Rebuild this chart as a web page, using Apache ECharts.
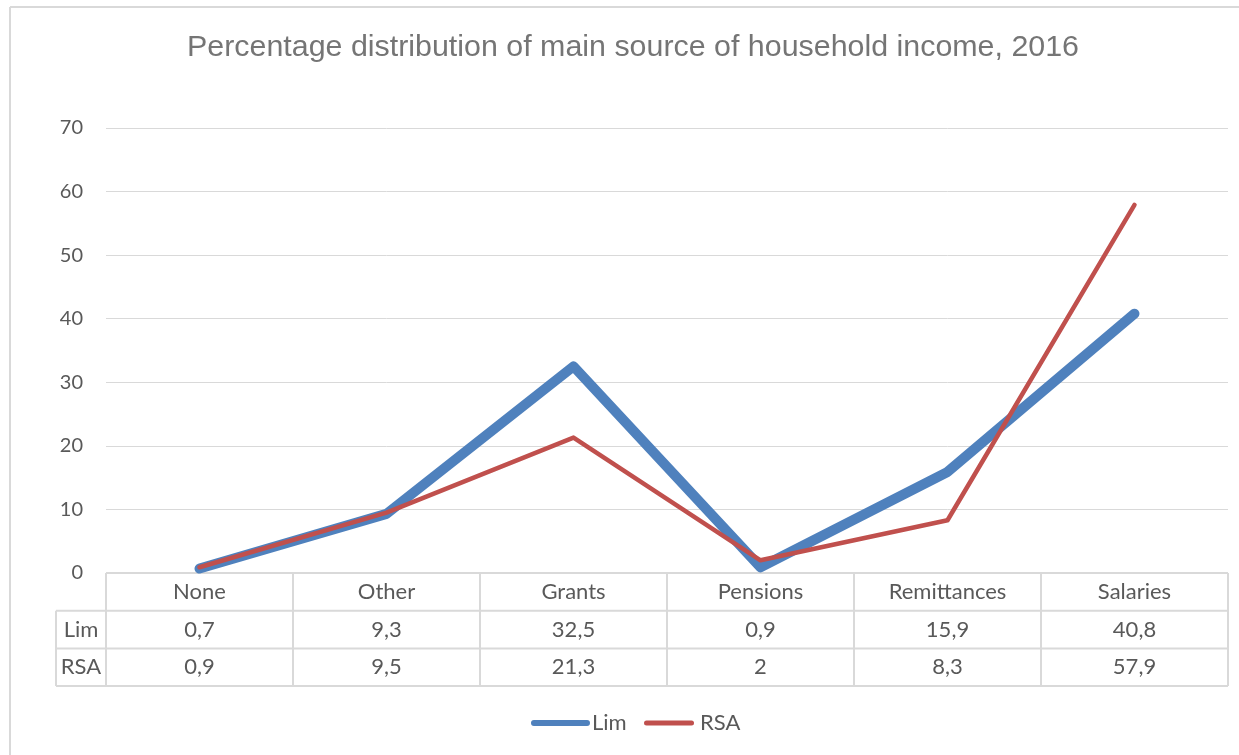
<!DOCTYPE html>
<html>
<head>
<meta charset="utf-8">
<script src="https://cdn.jsdelivr.net/npm/echarts@6/dist/echarts.min.js"></script>
<style>
html,body{margin:0;padding:0;background:#fff;}
#c{width:1239px;height:755px;}
</style>
</head>
<body>
<div id="c"></div>
<script>
var titleText = 'Percentage distribution of main source of household income, 2016';
var categories = ['None', 'Other', 'Grants', 'Pensions', 'Remittances', 'Salaries'];
var limValues = [0.7, 9.3, 32.5, 0.9, 15.9, 40.8];
var rsaValues = [0.9, 9.5, 21.3, 2, 8.3, 57.9];
var seriesNames = ['Lim', 'RSA'];
var yTicks = [0, 10, 20, 30, 40, 50, 60, 70];

var BLUE = '#4f81bd', RED = '#c0504d';
var GRID_L = 106, GRID_R = 11, GRID_T = 128, GRID_B = 182;
var W = 1239, H = 755;
var FONT = 'Lato, "Open Sans", sans-serif';
var TXT = '#595959';
var LINE = '#d9d9d9';

var chart = echarts.init(document.getElementById('c'), null, {renderer: 'canvas'});

var option = {
  animation: false,
  backgroundColor: '#fff',
  title: {
    text: titleText, left: 182, top: 28,
    textStyle: {fontFamily: 'Liberation Sans, Arial, sans-serif', fontWeight: 'normal', fontSize: 30.4, color: '#757575'}
  },
  grid: {left: GRID_L, right: GRID_R, top: GRID_T, bottom: GRID_B, containLabel: false},
  xAxis: {
    type: 'category', data: categories, boundaryGap: true,
    axisLine: {show: false}, axisTick: {show: false}, axisLabel: {show: false}, splitLine: {show: false}
  },
  yAxis: {
    type: 'value', min: yTicks[0], max: yTicks[yTicks.length - 1], interval: 10,
    axisLine: {show: false}, axisTick: {show: false},
    axisLabel: {fontFamily: FONT, fontSize: 20, color: TXT, margin: 23},
    splitLine: {lineStyle: {color: LINE, width: 1}}
  },
  legend: [
    {data: [seriesNames[0]], left: 526, top: 707, itemWidth: 59, itemHeight: 9, itemGap: 0,
     icon: 'path://M5,0 L95,0 A5,5 0 0 1 95,10 L5,10 A5,5 0 0 1 5,0 Z',
     textStyle: {fontFamily: FONT, fontSize: 22, color: TXT, padding: [0, 0, 0, -3]}},
    {data: [seriesNames[1]], left: 639, top: 707, itemWidth: 58, itemHeight: 5, itemGap: 0,
     icon: 'path://M5,0 L95,0 A5,5 0 0 1 95,10 L5,10 A5,5 0 0 1 5,0 Z',
     textStyle: {fontFamily: FONT, fontSize: 22, color: TXT, padding: [0, 0, 0, -3]}}
  ],
  series: [
    {name: seriesNames[0], type: 'line', data: limValues, symbol: 'none', z: 2,
     itemStyle: {color: BLUE},
     lineStyle: {color: BLUE, width: 10, cap: 'round', join: 'round'}},
    {name: seriesNames[1], type: 'line', data: rsaValues, symbol: 'none', z: 3,
     itemStyle: {color: RED},
     lineStyle: {color: RED, width: 4.5, cap: 'round', join: 'round'}}
  ]
};
chart.setOption(option);

function fmt(v) { return String(v).replace('.', ','); }

function buildTable() {
  var left = GRID_L, right = W - GRID_R;
  var bw = (right - left) / categories.length;
  var top = H - GRID_B; // y of 0
  var rowH = 37.7;
  var headL = 56;
  var els = [];
  var ls = {stroke: LINE, lineWidth: 2};
  // frame
  els.push({type: 'line', shape: {x1: 10, y1: 7, x2: W, y2: 7}, style: {stroke: '#d9d9d9', lineWidth: 2}, silent: true});
  els.push({type: 'line', shape: {x1: 10, y1: 7, x2: 10, y2: H}, style: {stroke: '#d9d9d9', lineWidth: 2}, silent: true});
  // horizontal lines
  els.push({type: 'line', shape: {x1: left, y1: top, x2: right, y2: top}, style: ls, silent: true});
  for (var r = 1; r <= 3; r++) {
    var y = top + rowH * r;
    els.push({type: 'line', shape: {x1: headL, y1: y, x2: right, y2: y}, style: ls, silent: true});
  }
  // vertical lines
  els.push({type: 'line', shape: {x1: headL, y1: top + rowH, x2: headL, y2: top + rowH * 3}, style: ls, silent: true});
  for (var i = 0; i <= categories.length; i++) {
    var x = left + bw * i;
    els.push({type: 'line', shape: {x1: x, y1: top, x2: x, y2: top + rowH * 3}, style: ls, silent: true});
  }
  var rows = [categories, limValues.map(fmt), rsaValues.map(fmt)];
  for (var r2 = 0; r2 < 3; r2++) {
    var cy = top + rowH * r2 + rowH / 2;
    for (var j = 0; j < categories.length; j++) {
      var cx = chart.convertToPixel({xAxisIndex: 0}, categories[j]);
      els.push({type: 'text', x: cx, y: cy, silent: true,
        style: {text: rows[r2][j], fontFamily: FONT, fontSize: 22, fill: TXT, align: 'center', verticalAlign: 'middle'}});
    }
    if (r2 > 0) {
      els.push({type: 'text', x: (headL + left) / 2, y: cy, silent: true,
        style: {text: seriesNames[r2 - 1], fontFamily: FONT, fontSize: 22, fill: TXT, align: 'center', verticalAlign: 'middle'}});
    }
  }
  chart.setOption({graphic: els});
}
buildTable();
</script>
</body>
</html>
